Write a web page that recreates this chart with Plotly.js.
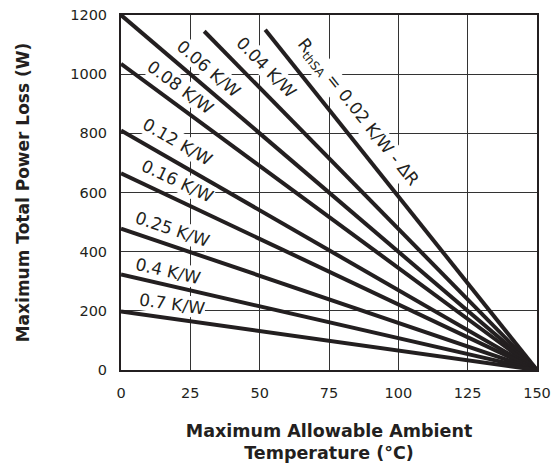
<!DOCTYPE html>
<html>
<head>
<meta charset="utf-8">
<script src="https://cdn.plot.ly/plotly-3.0.1.min.js"></script>
<style>html,body{margin:0;padding:0;background:#fff;}#chart{width:556px;height:470px;}</style>
</head>
<body>
<div id="chart"></div>
<script>
// Data: each line runs from (startX, startY) down to (endX, endY)
const seriesLabels = ['R<sub>thSA</sub> = 0.02 K/W - ΔR', '0.04 K/W', '0.06 K/W', '0.08 K/W', '0.12 K/W', '0.16 K/W', '0.25 K/W', '0.4 K/W', '0.7 K/W'];
const startX = [52, 30, 0, 0, 0, 0, 0, 0, 0];
const startY = [1150, 1145, 1200, 1035, 810, 665, 478, 323, 198];
const endX = [150, 150, 150, 150, 150, 150, 150, 150, 150];
const endY = [0, 0, 0, 0, 0, 0, 0, 0, 0];
const xTicks = [0, 25, 50, 75, 100, 125, 150];
const yTicks = [0, 200, 400, 600, 800, 1000, 1200];

// Label placement (layout only): centre of each rotated line label, in axis units
const labelPosX = [85.1, 52.3, 31.7, 21.3, 20.5, 20.4, 18.4, 16.9, 18.4];
const labelPosY = [869, 1024, 1017, 957, 771, 639, 477, 335, 223];

const INK = '#231f20';
const FONT = 'DejaVu Sans, Liberation Sans, Arial, sans-serif';
const margin = {l: 121, r: 19, t: 15, b: 100};
const W = 556, H = 470;
const plotW = W - margin.l - margin.r, plotH = H - margin.t - margin.b;
const xRange = [0, 150], yRange = [0, 1200];

const traces = seriesLabels.map((name, i) => ({
  type: 'scatter', mode: 'lines', name: name,
  x: [startX[i], endX[i]], y: [startY[i], endY[i]],
  line: {color: INK, width: 4}, hoverinfo: 'skip'
}));

const annotations = seriesLabels.map((name, i) => {
  const dxPx = (endX[i] - startX[i]) * plotW / (xRange[1] - xRange[0]);
  const dyPx = (startY[i] - endY[i]) * plotH / (yRange[1] - yRange[0]);
  const a = Math.atan2(dyPx, dxPx);
  return {
    x: labelPosX[i], y: labelPosY[i], xref: 'x', yref: 'y', text: name, showarrow: false,
    textangle: a * 180 / Math.PI, xanchor: 'center', yanchor: 'middle',
    bgcolor: '#ffffff', borderpad: 0,
    font: {family: FONT, size: 17, color: INK}
  };
});

const layout = {
  width: W, height: H, margin: margin,
  paper_bgcolor: '#fff', plot_bgcolor: '#fff', showlegend: false,
  font: {family: FONT, color: INK},
  xaxis: {
    range: xRange, tickvals: xTicks, ticktext: xTicks.map(String),
    showgrid: true, gridcolor: '#333', gridwidth: 1, zeroline: false,
    showline: true, mirror: true, linecolor: INK, linewidth: 2,
    ticks: 'outside', ticklen: 0, ticklabelstandoff: 9,
    tickfont: {family: FONT, size: 14.5, color: INK},
    title: {text: 'Maximum Allowable Ambient<br>Temperature (°C)', standoff: 24,
            font: {family: FONT, size: 17.5, color: INK, weight: 'bold'}},
    automargin: false, fixedrange: true
  },
  yaxis: {
    range: yRange, tickvals: yTicks, ticktext: yTicks.map(String),
    showgrid: true, gridcolor: '#333', gridwidth: 1, zeroline: false,
    showline: true, mirror: true, linecolor: INK, linewidth: 2,
    ticks: 'outside', ticklen: 0, ticklabelstandoff: 9,
    tickfont: {family: FONT, size: 14.5, color: INK},
    title: {text: 'Maximum Total Power Loss (W)', standoff: 36,
            font: {family: FONT, size: 17, color: INK, weight: 'bold'}},
    automargin: false, fixedrange: true
  },
  annotations: annotations
};

Plotly.newPlot('chart', traces, layout, {displayModeBar: false, staticPlot: true});
</script>
</body>
</html>
